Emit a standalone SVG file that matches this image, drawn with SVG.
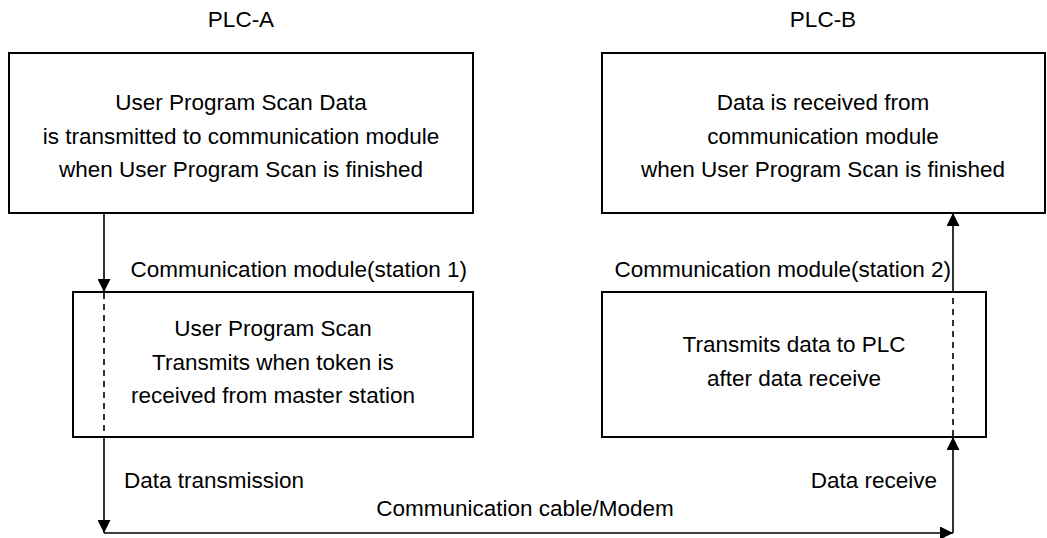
<svg xmlns="http://www.w3.org/2000/svg" width="1047" height="538" viewBox="0 0 1047 538">
  <style>
    .box { fill: #fff; stroke: #000; stroke-width: 2; }
    .lbl { font-family: "Liberation Sans", Arial, sans-serif; font-size: 22.5px; fill: #000; }
    .mid { text-anchor: middle; }
    .end { text-anchor: end; }
    .wire { fill: none; stroke: #000; stroke-width: 1.6; }
    .dash { fill: none; stroke: #000; stroke-width: 1.6; stroke-dasharray: 6 5; }
  </style>
  <defs>
    <marker id="arrow" viewBox="0 0 10 10" refX="10" refY="5" markerWidth="13" markerHeight="13" markerUnits="userSpaceOnUse" orient="auto">
      <path d="M0,0 L10,5 L0,10 Z" fill="#000"/>
    </marker>
  </defs>

  <rect width="1047" height="538" fill="#fff"/>

  <!-- headings -->
  <text class="lbl mid" x="241" y="27">PLC-A</text>
  <text class="lbl mid" x="823" y="27">PLC-B</text>

  <!-- PLC-A program scan -->
  <g id="plc-a-scan">
    <rect class="box" x="9" y="53" width="464" height="160"/>
    <text class="lbl mid" x="241" y="110">User Program Scan Data</text>
    <text class="lbl mid" x="241" y="143.5">is transmitted to communication module</text>
    <text class="lbl mid" x="241" y="177">when User Program Scan is finished</text>
  </g>

  <!-- PLC-B program scan -->
  <g id="plc-b-scan">
    <rect class="box" x="602" y="53" width="443" height="160"/>
    <text class="lbl mid" x="823" y="110">Data is received from</text>
    <text class="lbl mid" x="823" y="143.5">communication module</text>
    <text class="lbl mid" x="823" y="177">when User Program Scan is finished</text>
  </g>

  <!-- station 1 module -->
  <g id="station-1">
    <text class="lbl end" x="467" y="277">Communication module(station 1)</text>
    <rect class="box" x="73" y="292" width="400" height="145"/>
    <text class="lbl mid" x="273" y="336">User Program Scan</text>
    <text class="lbl mid" x="273" y="369.5">Transmits when token is</text>
    <text class="lbl mid" x="273" y="403">received from master station</text>
  </g>

  <!-- station 2 module -->
  <g id="station-2">
    <text class="lbl end" x="951" y="277">Communication module(station 2)</text>
    <rect class="box" x="602" y="292" width="384" height="145"/>
    <text class="lbl mid" x="794" y="352">Transmits data to PLC</text>
    <text class="lbl mid" x="794" y="385.5">after data receive</text>
  </g>

  <!-- data path -->
  <g id="connectors">
    <line class="wire" x1="104" y1="213" x2="104" y2="292" marker-end="url(#arrow)"/>
    <line class="dash" x1="104" y1="293" x2="104" y2="436"/>
    <line class="wire" x1="104" y1="437" x2="104" y2="533" marker-end="url(#arrow)"/>
    <line class="wire" x1="104" y1="533" x2="953" y2="533" marker-end="url(#arrow)"/>
    <line class="wire" x1="953" y1="533" x2="953" y2="437" marker-end="url(#arrow)"/>
    <line class="dash" x1="953" y1="436" x2="953" y2="293"/>
    <line class="wire" x1="953" y1="292" x2="953" y2="213" marker-end="url(#arrow)"/>
    <text class="lbl" x="124" y="488">Data transmission</text>
    <text class="lbl end" x="937" y="488">Data receive</text>
    <text class="lbl mid" x="525" y="516">Communication cable/Modem</text>
  </g>
</svg>
